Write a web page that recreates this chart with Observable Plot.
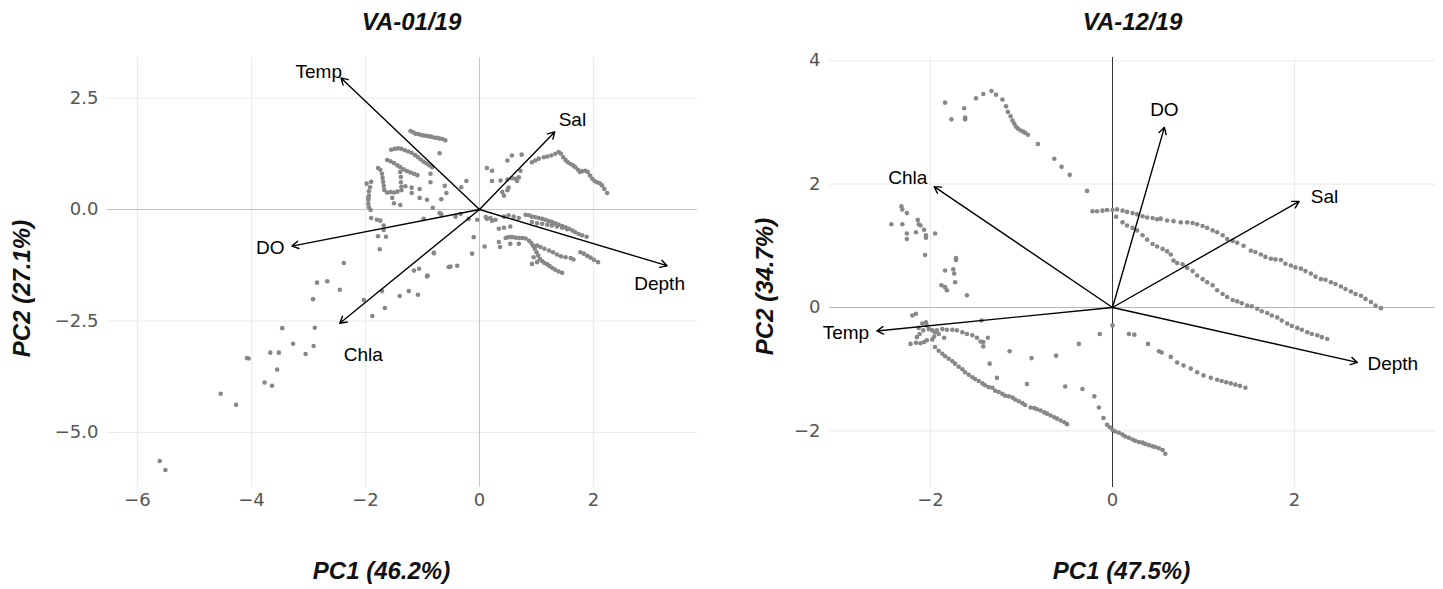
<!DOCTYPE html>
<html>
<head>
<meta charset="utf-8">
<script src="https://cdn.jsdelivr.net/npm/d3@7"></script>
<script src="https://cdn.jsdelivr.net/npm/@observablehq/plot@0.6"></script>
<style>
  html, body { margin: 0; padding: 0; background: #fff; }
  #charts { display: flex; width: 1443px; height: 589px; overflow: hidden; }
  #charts svg { font-family: "Liberation Sans", Arial, Helvetica, sans-serif; }
  #charts g[aria-label="x-axis tick label"], #charts g[aria-label="y-axis tick label"] { font-family: "DejaVu Sans", sans-serif; }
</style>
</head>
<body>
<div id="charts"></div>
<script>
// PCA variables shown as loading arrows
const varNames = ["Temp", "Sal", "DO", "Depth", "Chla"];

// VA-01/19: arrow tips and label anchors (PC1, PC2)
const janLoadPC1  = [-2.43, 1.32, -3.29, 3.29, -2.45];
const janLoadPC2  = [ 2.95, 1.74, -0.82, -1.26, -2.55];
const janLabelPC1 = [-2.82, 1.63, -3.67, 3.16, -2.04];
const janLabelPC2 = [ 3.09, 2.01, -0.86, -1.67, -3.26];

// VA-12/19: arrow tips and label anchors (PC1, PC2)
const decLoadPC1  = [-2.59, 2.05, 0.57, 2.69, -1.96];
const decLoadPC2  = [-0.38, 1.72, 2.92, -0.89, 1.96];
const decLabelPC1 = [-2.93, 2.33, 0.57, 3.08, -2.25];
const decLabelPC2 = [-0.41, 1.80, 3.21, -0.92, 2.10];

// Axis ticks
const janTicksX = [-6, -4, -2, 0, 2];
const janTicksY = [-5, -2.5, 0, 2.5];
const decTicksX = [-2, 0, 2];
const decTicksY = [-2, 0, 2, 4];

// Sample scores (PC1, PC2), VA-01/19
const janScores = [
  [-1.21,1.76],[-1.16,1.73],[-1.12,1.70],[-1.07,1.69],[-1.02,1.67],[-0.98,1.66],[-0.93,1.65],[-0.88,1.64],[-0.84,1.63],[-0.79,1.61],[-0.74,1.61],[-0.70,1.59],[-0.65,1.58],[-0.60,1.55],[-0.70,1.26],
  [-1.55,1.34],[-1.49,1.36],[-1.43,1.37],[-1.37,1.36],[-1.31,1.33],[-1.25,1.30],[-1.19,1.27],[-1.13,1.22],[-1.08,1.17],[-1.03,1.12],[-0.98,1.07],[-0.93,1.03],[-0.88,0.99],[-0.83,0.95],
  [-1.62,1.11],[-1.56,1.08],[-1.50,1.04],[-1.44,0.99],[-1.39,0.95],[-1.33,0.90],[-1.27,0.86],[-1.21,0.83],[-1.15,0.80],[-1.09,0.77],
  [-1.39,0.84],[-1.38,0.73],[-1.38,0.61],[-1.37,0.51],[-1.37,0.43],
  [-1.78,0.93],[-1.74,0.89],[-1.71,0.80],[-1.70,0.71],[-1.69,0.62],[-1.68,0.53],[-1.67,0.44],[-1.62,0.38],[-1.56,0.39],[-1.50,0.38],[-1.44,0.40],
  [-1.98,0.58],[-1.90,0.62],[-1.92,0.50],[-1.94,0.41],[-1.94,0.31],[-1.95,0.26],[-1.95,0.22],[-1.95,0.13],[-1.94,0.05],[-1.91,-0.01],
  [-0.86,0.80],[-1.19,0.49],[-1.05,0.46],[-1.19,0.37],[-1.05,0.26],[-0.92,0.22],[-1.50,0.14],[-1.39,0.10],[-0.67,0.23],[-0.58,0.37],
  [-0.61,0.53],[-0.23,0.64],[-0.32,0.50],[-0.82,0.04],[-0.70,-0.08],[-0.98,-0.21],[-1.30,0.52],[-0.86,0.61],[-1.53,0.26],[-0.42,-0.16],
  [-0.33,-0.10],[-0.19,-0.21],[-0.04,-0.23],[-0.10,-0.62],[-0.13,-0.99],[0.09,-0.83],[-0.80,-0.98],[-0.51,-1.28],[-0.39,-1.26],[-0.91,-1.48],
  [-1.15,-1.37],[-1.06,-1.33],[-1.90,-0.19],[-1.80,-0.23],[-1.74,-0.25],[-1.68,-0.36],[-1.68,-0.46],[-1.78,-0.60],[-1.64,-0.61],[-1.75,-0.89],
  [-0.67,-0.11],[0.13,-0.21],[0.22,-0.25],
  [0.13,0.93],[0.22,0.87],[0.49,1.10],[0.57,1.21],[0.74,1.23],[0.22,0.64],[0.37,0.65],[0.49,0.67],[0.57,0.70],[0.63,0.69],[0.66,0.64],[0.69,0.72],[0.72,0.87],[0.40,0.39],[0.43,0.31],[0.49,0.43],[0.51,0.49],
  [0.92,1.06],[0.98,1.10],[1.04,1.14],[1.13,1.17],[1.19,1.19],[1.26,1.21],[1.33,1.25],[1.39,1.29],[1.43,1.25],[1.47,1.17],[1.51,1.11],[1.55,1.06],[1.60,1.02],[1.64,0.99],
  [1.68,0.95],[1.73,0.89],[1.76,0.84],[1.80,0.86],[1.86,0.87],[1.90,0.84],[1.94,0.76],[1.98,0.69],[2.02,0.64],[2.06,0.61],[2.11,0.59],[2.15,0.54],[2.19,0.46],[2.24,0.37],
  [0.11,-0.17],[0.19,-0.19],[0.28,-0.23],[0.43,-0.16],[0.51,-0.13],[0.60,-0.16],[0.69,-0.19],[0.81,-0.12],[0.87,-0.13],[0.92,-0.16],[0.98,-0.17],[1.04,-0.19],[1.10,-0.21],
  [1.16,-0.23],[1.22,-0.26],[1.27,-0.28],[1.33,-0.31],[1.39,-0.34],[1.45,-0.37],[1.51,-0.40],[1.57,-0.43],[1.63,-0.47],[1.68,-0.51],[1.74,-0.55],[1.80,-0.58],[1.88,-0.61],
  [0.92,-0.28],[1.01,-0.31],[1.10,-0.32],[1.19,-0.34],[1.27,-0.36],[1.36,-0.38],[1.45,-0.41],[1.54,-0.44],
  [0.46,-0.64],[0.51,-0.62],[0.57,-0.62],[0.63,-0.63],[0.69,-0.64],[0.75,-0.64],[0.81,-0.65],[0.87,-0.70],[0.91,-0.75],[0.94,-0.81],[0.97,-0.88],
  [1.00,-0.96],[1.03,-1.03],[1.06,-1.11],[1.10,-1.16],[1.14,-1.20],[1.19,-1.23],[1.23,-1.27],[1.28,-1.31],[1.33,-1.35],[1.39,-1.39],[1.45,-1.42],
  [1.01,-0.81],[1.07,-0.84],[1.14,-0.88],[1.22,-0.92],[1.29,-0.96],[1.36,-1.01],[1.43,-1.05],[1.51,-1.07],[1.60,-1.09],[1.65,-1.12],
  [1.77,-0.96],[1.83,-0.99],[1.89,-1.04],[1.95,-1.08],[2.01,-1.13],[2.08,-1.18],
  [0.92,-1.22],[1.01,-1.18],[0.95,-1.07],[0.34,-0.43],[0.43,-0.41],[0.54,-0.38],[0.34,-0.73],[0.36,-0.84],[0.54,-0.77],[0.69,-0.77],
  [-2.38,-1.20],[-2.85,-1.64],[-2.67,-1.61],[-2.45,-1.80],[-2.92,-2.01],[-2.03,-2.03],[-1.88,-2.39],[-1.66,-2.21],[-1.71,-1.83],[-1.40,-1.94],
  [-1.24,-1.83],[-1.08,-1.91],[-0.92,-1.50],[-0.80,-0.97],[-0.54,-1.29],[-3.46,-2.66],[-2.89,-2.65],[-3.27,-3.01],[-2.91,-3.06],[-3.05,-3.24],
  [-3.67,-3.21],[-3.52,-3.21],[-4.08,-3.33],[-4.05,-3.34],[-3.55,-3.59],[-3.77,-3.88],[-3.64,-3.95],[-4.54,-4.13],[-4.27,-4.38],[-5.61,-5.64],[-5.51,-5.84]
];

// Sample scores (PC1, PC2), VA-12/19
const decScores = [
  [-1.84,3.32],[-1.77,3.05],[-1.63,3.23],[-1.62,3.08],[-1.62,3.05],[-1.50,3.39],[-1.42,3.46],[-1.33,3.51],[-1.28,3.45],[-1.21,3.37],[-1.17,3.26],[-1.15,3.17],[-1.12,3.10],
  [-1.10,3.03],[-1.08,2.98],[-1.06,2.93],[-1.04,2.90],[-1.01,2.87],[-0.98,2.85],[-0.96,2.83],[-0.93,2.80],[-0.82,2.65],[-0.64,2.41],[-0.56,2.28],[-0.47,2.15],[-0.28,1.89],
  [-2.32,1.64],[-2.31,1.59],[-2.26,1.53],[-2.43,1.35],[-2.31,1.35],[-2.14,1.42],[-2.13,1.35],[-2.11,1.33],[-2.16,1.22],[-2.26,1.20],[-2.26,1.11],[-2.07,1.26],[-2.05,1.17],[-2.05,1.13],[-1.95,1.20],[-2.06,0.85],[-1.72,0.77],
  [-1.88,0.36],[-1.84,0.33],[-1.72,0.80],[-1.75,0.62],[-1.74,0.55],[-1.84,0.60],[-1.60,0.20],[-1.82,0.28],[-1.73,0.41],
  [-0.22,1.56],[-0.17,1.56],[-0.11,1.57],[-0.06,1.58],[0.00,1.58],[0.05,1.59],[0.11,1.57],[0.16,1.55],[0.22,1.53],[0.27,1.51],[0.33,1.48],[0.38,1.46],[0.44,1.45],[0.49,1.43],[0.53,1.44],
  [0.60,1.41],[0.67,1.40],[0.75,1.38],[0.82,1.38],[0.88,1.37],[0.93,1.35],[0.99,1.32],[1.04,1.29],[1.10,1.25],[1.15,1.22],[1.21,1.17],[1.26,1.11],[1.32,1.08],[1.37,1.05],[1.44,1.00],
  [1.52,0.92],[1.57,0.90],[1.63,0.86],[1.68,0.82],[1.74,0.79],[1.79,0.78],[1.85,0.77],[1.90,0.71],[1.96,0.68],[2.01,0.65],[2.07,0.63],[2.12,0.59],[2.18,0.55],[2.23,0.50],
  [2.29,0.46],[2.34,0.45],[2.40,0.41],[2.45,0.38],[2.51,0.34],[2.56,0.30],[2.62,0.26],[2.67,0.22],[2.73,0.19],[2.78,0.14],[2.84,0.09],[2.89,0.03],[2.95,-0.01],
  [0.04,1.47],[0.11,1.38],[0.16,1.33],[0.22,1.29],[0.27,1.25],[0.33,1.17],[0.38,1.10],[0.44,1.03],[0.49,0.99],[0.55,0.95],[0.60,0.91],[0.64,0.86],[0.67,0.76],[0.71,0.72],[0.77,0.70],
  [0.82,0.64],[0.88,0.59],[0.93,0.52],[0.99,0.46],[1.04,0.41],[1.10,0.36],[1.15,0.28],[1.21,0.22],[1.26,0.17],[1.32,0.12],[1.37,0.10],[1.42,0.07],[1.48,0.03],[1.53,0.02],
  [1.59,-0.02],[1.64,-0.06],[1.70,-0.09],[1.75,-0.13],[1.81,-0.16],[1.86,-0.21],[1.92,-0.26],[1.97,-0.30],[2.03,-0.33],[2.08,-0.36],[2.14,-0.40],[2.19,-0.43],[2.25,-0.45],[2.30,-0.48],[2.36,-0.51],
  [0.00,-0.29],[-0.14,-0.43],[0.18,-0.43],[0.24,-0.44],[0.39,-0.59],[0.51,-0.71],[0.54,-0.73],[0.64,-0.80],[0.71,-0.89],[0.78,-0.94],[0.86,-0.99],[0.93,-1.05],[1.00,-1.10],[1.08,-1.14],
  [1.15,-1.17],[1.20,-1.19],[1.25,-1.21],[1.30,-1.23],[1.35,-1.25],[1.40,-1.27],[1.46,-1.30],
  [0.00,-1.98],[0.03,-2.01],[0.07,-2.03],[0.11,-2.06],[0.14,-2.09],[0.18,-2.11],[0.22,-2.14],[0.25,-2.16],[0.29,-2.18],[0.33,-2.19],[0.36,-2.21],[0.40,-2.23],[0.44,-2.25],[0.47,-2.26],[0.51,-2.28],[0.55,-2.31],[0.58,-2.37],
  [-0.37,-0.59],[-0.33,-1.32],[-0.20,-1.44],[-0.15,-1.62],[-0.10,-1.79],[-0.06,-1.90],[-0.03,-1.94],
  [-1.13,-0.71],[-0.89,-0.82],[-0.62,-0.78],[-1.35,-0.91],[-1.27,-1.14],[-0.94,-1.24],[-0.52,-1.28],[-1.44,-0.21],[-1.37,-0.49],[-1.42,-0.56],[-1.42,-0.63],
  [-1.95,-0.64],[-1.91,-0.70],[-1.87,-0.75],[-1.84,-0.79],[-1.80,-0.83],[-1.76,-0.87],[-1.73,-0.91],[-1.69,-0.96],[-1.65,-1.00],[-1.62,-1.05],[-1.58,-1.09],[-1.54,-1.13],[-1.51,-1.16],
  [-1.47,-1.19],[-1.43,-1.23],[-1.40,-1.26],[-1.36,-1.29],[-1.32,-1.30],[-1.29,-1.35],[-1.25,-1.37],[-1.21,-1.40],[-1.18,-1.43],[-1.14,-1.44],[-1.10,-1.46],[-1.07,-1.49],[-1.03,-1.52],
  [-0.99,-1.55],[-0.96,-1.58],[-0.90,-1.62],[-0.86,-1.63],[-0.83,-1.65],[-0.79,-1.67],[-0.75,-1.70],[-0.72,-1.72],[-0.68,-1.75],[-0.64,-1.78],[-0.61,-1.80],[-0.57,-1.83],[-0.53,-1.86],[-0.50,-1.89],
  [-2.22,-0.59],[-2.16,-0.57],[-2.20,-0.13],[-2.16,-0.10],[-2.13,-0.33],[-2.09,-0.26],[-2.05,-0.24],[-2.04,-0.29],[-2.02,-0.35],[-1.98,-0.37],[-1.95,-0.40],[-1.91,-0.43],[-2.15,-0.48],
  [-2.11,-0.58],[-2.07,-0.56],[-2.04,-0.53],[-1.98,-0.52],[-1.96,-0.47],[-1.93,-0.37],[-1.87,-0.35],[-1.82,-0.36],[-1.76,-0.36],[-1.71,-0.37],[-1.65,-0.40],[-1.60,-0.43],[-1.54,-0.45],
  [-1.49,-0.49],[-1.45,-0.55],[-1.85,-0.49],[-2.08,-0.37],[-2.12,-0.43]
];

const TICK_FONT = "DejaVu Sans";
const TITLE_FONT = "Liberation Sans";

function loadings(pc1, pc2, lab1, lab2) {
  return varNames.map((name, i) => ({name, pc1: pc1[i], pc2: pc2[i], lx: lab1[i], ly: lab2[i]}));
}

function biplot(o) {
  const titleStyle = {lineAnchor: "middle", textAnchor: "middle", fontFamily: TITLE_FONT, fontWeight: "bold", fontStyle: "italic", fill: "#111"};
  return Plot.plot({
    width: o.width,
    height: 589,
    marginTop: 57,
    marginBottom: 102,
    marginLeft: o.marginLeft,
    marginRight: o.marginRight,
    x: {domain: o.xDomain},
    y: {domain: o.yDomain},
    style: {background: "#fff", overflow: "visible"},
    marks: [
      Plot.gridX({ticks: o.ticksX, stroke: "#ebebeb", strokeOpacity: 1, strokeWidth: 1.1}),
      Plot.gridY({ticks: o.ticksY, stroke: "#ebebeb", strokeOpacity: 1, strokeWidth: 1.1}),
      Plot.ruleY([0], {stroke: o.hZero, strokeWidth: 1}),
      Plot.ruleX([0], {stroke: o.vZero, strokeWidth: 1}),
      Plot.axisX({ticks: o.ticksX, tickSize: 0, tickPadding: 6, tickFormat: d3.format("d"), fontSize: 18, fontFamily: TICK_FONT, color: "#555", label: null}),
      Plot.axisY({ticks: o.ticksY, tickSize: 0, tickPadding: 9, tickFormat: o.yFormat, fontSize: 18, fontFamily: TICK_FONT, color: "#555", label: null}),
      Plot.dot(o.scores, {x: (d) => d[0], y: (d) => d[1], r: 2.3, fill: "#888", stroke: null}),
      Plot.arrow(o.load, {x1: () => 0, y1: () => 0, x2: "pc1", y2: "pc2", stroke: "#000", strokeWidth: 1.4, headLength: 8}),
      Plot.text(o.load, {x: "lx", y: "ly", text: "name", fontSize: 19, fill: "#000"}),
      Plot.text([o.title], {frameAnchor: "top", dx: o.titleDx, dy: -35, fontSize: 24, ...titleStyle}),
      Plot.text([o.xLabel], {frameAnchor: "bottom", dx: o.xLabelDx, dy: 84, fontSize: 24, ...titleStyle}),
      Plot.text([o.yLabel], {frameAnchor: "left", dx: o.yLabelDx, dy: o.yLabelDy, rotate: -90, fontSize: 24, ...titleStyle})
    ]
  });
}

const host = document.getElementById("charts");

host.appendChild(biplot({
  width: 720, marginLeft: 107, marginRight: 23,
  xDomain: [-6.526, 3.825], yDomain: [-6.233, 3.408],
  ticksX: janTicksX, ticksY: janTicksY, yFormat: d3.format(".1f"),
  scores: janScores,
  load: loadings(janLoadPC1, janLoadPC2, janLabelPC1, janLabelPC2),
  hZero: "#c4c4c4", vZero: "#c4c4c4",
  title: "VA-01/19", titleDx: 9,
  xLabel: "PC1 (46.2%)", xLabelDx: -21,
  yLabel: "PC2 (27.1%)", yLabelDx: -85, yLabelDy: 16
}));

host.appendChild(biplot({
  width: 723, marginLeft: 109, marginRight: 8,
  xDomain: [-3.110, 3.549], yDomain: [-2.917, 4.052],
  ticksX: decTicksX, ticksY: decTicksY, yFormat: d3.format("d"),
  scores: decScores,
  load: loadings(decLoadPC1, decLoadPC2, decLabelPC1, decLabelPC2),
  hZero: "#b5b5b5", vZero: "#333",
  title: "VA-12/19", titleDx: 0,
  xLabel: "PC1 (47.5%)", xLabelDx: -11,
  yLabel: "PC2 (34.7%)", yLabelDx: -64, yLabelDy: 14
}));
</script>
</body>
</html>
